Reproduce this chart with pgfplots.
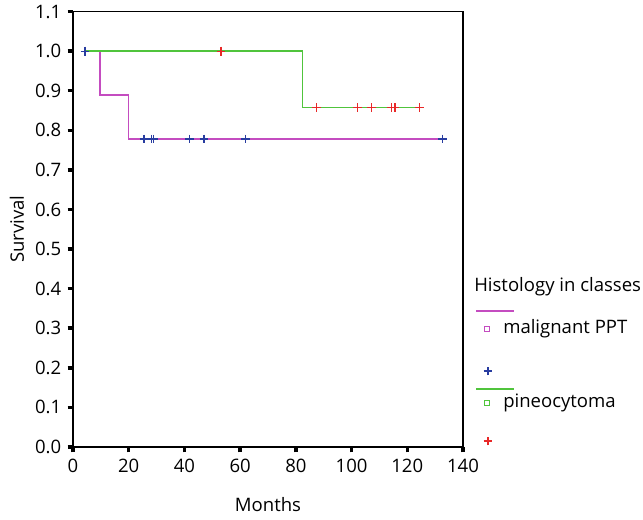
\documentclass[border=0pt]{standalone}
\usepackage{fontspec}
\setmainfont{Open Sans}
\usepackage{pgfplots}
\pgfplotsset{compat=1.18}

\definecolor{pptline}{RGB}{196,76,192}
\definecolor{pinline}{RGB}{80,196,60}
\definecolor{cblue}{RGB}{40,60,160}
\definecolor{cred}{RGB}{232,40,40}

\begin{document}
\fontsize{13.9}{16}\selectfont
\begin{tikzpicture}
\useasboundingbox (-54.75pt,-54.75pt) rectangle (427.5pt,335.25pt);
\begin{axis}[
    name=ax,
    scale only axis,
    width=292.5pt, height=326.6pt,
    xmin=0, xmax=140, ymin=0, ymax=1.1,
    xtick={0,20,...,140},
    ytick={0,0.1,...,1.1},
    xtick pos=bottom, ytick pos=left,
    tick align=outside,
    major tick length=4pt,
    major tick style={draw=black, line width=2.6pt},
    axis line style={line width=1pt},
    /pgf/number format/assume math mode=true,
    yticklabel style={/pgf/number format/.cd, fixed, fixed zerofill, precision=1},
    xlabel={Months}, ylabel={Survival},
    xlabel style={at={(axis description cs:0.5,-0.133)}, anchor=center},
    ylabel style={at={(axis description cs:-0.144,0.5)}, anchor=center},
]
% Kaplan-Meier steps
\addplot[pptline, line width=1.1pt, const plot] coordinates {
    (4.3,1.0) (9.7,0.889) (20.0,0.778) (132.8,0.778)};
\addplot[pinline, line width=1.1pt, const plot] coordinates {
    (4.3,1.0) (82.3,0.857) (124.3,0.857)};
% censored cases
\addplot[cblue, only marks, mark=+, mark size=3.3pt, line width=0.9pt] coordinates {
    (4.3,1.0) (25.5,0.778) (28.2,0.778) (28.8,0.778) (41.8,0.778) (47.0,0.778) (62.0,0.778) (132.7,0.778)};
\addplot[cred, only marks, mark=+, mark size=3.3pt, line width=0.9pt] coordinates {
    (53.1,1.0) (87.5,0.857) (102.0,0.857) (107.2,0.857) (114.4,0.857) (115.6,0.857) (124.3,0.857)};
\end{axis}

% heavy SPSS-style tick stubs (axis box lower left is at the origin)
\foreach \i in {0,...,7}
    \draw[black, line width=2.6pt] (\i*41.7857pt,0pt) -- ++(0pt,-4pt);
\foreach \i in {0,...,11}
    \draw[black, line width=2.6pt] (0pt,\i*29.6909pt) -- ++(-4pt,0pt);

% legend (SPSS style), placed beside the axis
\node[anchor=west, inner sep=0pt] at (300.75pt,120pt) {Histology in classes};
\draw[pptline, line width=1pt] (302.25pt,102pt) -- (330.75pt,102pt);
\draw[pptline, line width=0.7pt] (308.6pt,86.6pt) rectangle (312.4pt,90.4pt);
\node[anchor=west, inner sep=0pt] at (322.5pt,88.5pt) {malignant PPT};
\draw[cblue, line width=0.8pt] (308pt,57pt) -- (314.5pt,57pt) (311.25pt,53.75pt) -- (311.25pt,60.25pt);
\draw[pinline, line width=1pt] (302.25pt,43.5pt) -- (330.75pt,43.5pt);
\draw[pinline, line width=0.7pt] (308.6pt,31.1pt) rectangle (312.4pt,34.9pt);
\node[anchor=west, inner sep=0pt] at (322.5pt,33pt) {pineocytoma};
\draw[cred, line width=0.8pt] (308pt,4.5pt) -- (314.5pt,4.5pt) (311.25pt,1.25pt) -- (311.25pt,7.75pt);
\end{tikzpicture}
\end{document}
